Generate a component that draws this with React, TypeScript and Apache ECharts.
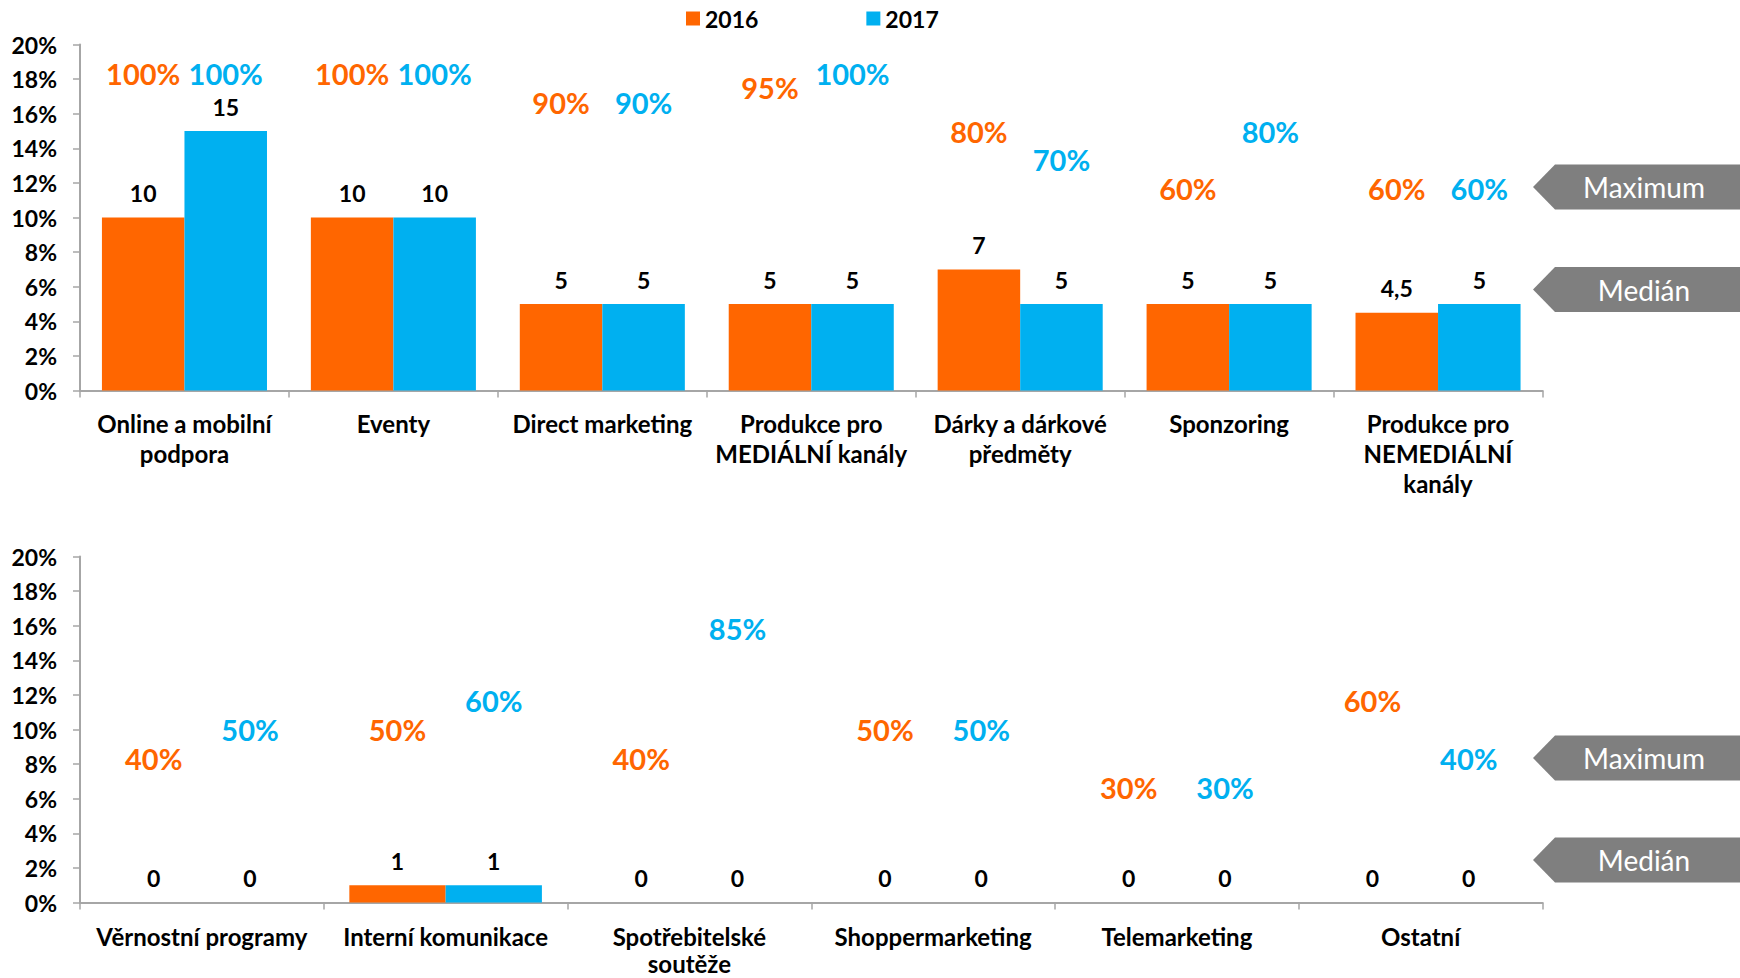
import React, { useEffect, useRef } from 'react';
import * as echarts from 'echarts';

const topCategories = [
  'Online a mobilní\npodpora',
  'Eventy',
  'Direct marketing',
  'Produkce pro\nMEDIÁLNÍ kanály',
  'Dárky a dárkové\npředměty',
  'Sponzoring',
  'Produkce pro\nNEMEDIÁLNÍ\nkanály',
];
const topMedian2016 = [10, 10, 5, 5, 7, 5, 4.5];
const topMedian2017 = [15, 10, 5, 5, 5, 5, 5];
const topMax2016 = [100, 100, 90, 95, 80, 60, 60];
const topMax2017 = [100, 100, 90, 100, 70, 80, 60];

const bottomCategories = [
  'Věrnostní programy',
  'Interní komunikace',
  'Spotřebitelské\nsoutěže',
  'Shoppermarketing',
  'Telemarketing',
  'Ostatní',
];
const bottomMedian2016 = [0, 1, 0, 0, 0, 0];
const bottomMedian2017 = [0, 1, 0, 0, 0, 0];
const bottomMax2016 = [40, 50, 40, 50, 30, 60];
const bottomMax2017 = [50, 60, 85, 50, 30, 40];

const seriesNames = ['2016', '2017'];
const arrowLabels = ['Maximum', 'Medián'];

const ORANGE = '#FF6600';
const BLUE = '#00B0F0';
const AXIS = '#A6A6A6';
const FONT = 'Lato';

export default function App() {
  const ref = useRef<HTMLDivElement>(null);

  useEffect(() => {
    if (!ref.current) return;
    const chart = echarts.init(ref.current, undefined, { renderer: 'svg' });

    const catAxis = (gridIndex: number, data: string[], margin: number, lineHeight: number) => ({
      gridIndex,
      type: 'category',
      data,
      axisLine: { show: true, lineStyle: { color: AXIS, width: 2 } },
      axisTick: { show: true, length: 7, lineStyle: { color: AXIS, width: 1.5 } },
      axisLabel: {
        interval: 0,
        margin,
        color: '#000',
        fontFamily: FONT,
        fontWeight: 'bold',
        fontSize: 24,
        lineHeight,
        align: 'center',
      },
      splitLine: { show: false },
    });
    const hiddenCat = (gridIndex: number, data: string[]) => ({
      gridIndex,
      type: 'category',
      data,
      show: false,
    });
    const valAxis = (gridIndex: number) => ({
      gridIndex,
      type: 'value',
      min: 0,
      max: 20,
      interval: 2,
      axisLine: { show: true, lineStyle: { color: AXIS, width: 2 } },
      axisTick: { show: true, length: 7, lineStyle: { color: AXIS, width: 1.5 } },
      axisLabel: {
        formatter: '{value}%',
        margin: 23,
        color: '#000',
        fontFamily: FONT,
        fontWeight: 'bold',
        fontSize: 23,
      },
      splitLine: { show: false },
    });
    const hiddenVal = (gridIndex: number) => ({
      gridIndex,
      type: 'value',
      min: -10,
      max: 110,
      show: false,
      splitLine: { show: false },
    });

    const medianSeries = (name: string, color: string, data: number[], xi: number, yi: number) => ({
      name,
      type: 'bar',
      xAxisIndex: xi,
      yAxisIndex: yi,
      data,
      barGap: '0%',
      barCategoryGap: '21%',
      itemStyle: { color },
      label: {
        show: true,
        position: 'top',
        distance: 13,
        color: '#000',
        fontFamily: FONT,
        fontWeight: 'bold',
        fontSize: 23,
        formatter: (p: any) => String(p.value).replace('.', ','),
      },
    });
    const maxSeries = (name: string, color: string, data: number[], xi: number, yi: number) => ({
      name,
      type: 'bar',
      xAxisIndex: xi,
      yAxisIndex: yi,
      data,
      silent: true,
      barGap: '0%',
      barCategoryGap: '21%',
      itemStyle: { color: 'rgba(0,0,0,0)' },
      label: {
        show: true,
        position: 'top',
        distance: 0,
        verticalAlign: 'middle',
        color,
        fontFamily: FONT,
        fontWeight: 'bold',
        fontSize: 29,
        formatter: '{c}%',
      },
    });

    const arrow = (tipY: number, label: string) => {
      const h = 45;
      const tipX = 1533;
      const bodyX = 1555;
      return [
        {
          type: 'polygon',
          shape: {
            points: [
              [tipX, tipY],
              [bodyX, tipY - h / 2],
              [1740, tipY - h / 2],
              [1740, tipY + h / 2],
              [bodyX, tipY + h / 2],
            ],
          },
          style: { fill: '#7F7F7F' },
        },
        {
          type: 'text',
          x: 1644,
          y: tipY,
          style: {
            text: label,
            fill: '#FFFFFF',
            fontFamily: FONT,
            fontSize: 28,
            align: 'center',
            verticalAlign: 'middle',
          },
        },
      ];
    };

    chart.setOption({
      animation: false,
      backgroundColor: '#FFFFFF',
      legend: {
        data: seriesNames,
        left: 681,
        top: 2,
        itemWidth: 14,
        itemHeight: 14,
        itemGap: 108,
        icon: 'rect',
        textStyle: { color: '#000', fontFamily: FONT, fontWeight: 'bold', fontSize: 23 },
      },
      grid: [
        { left: 80, top: 44.5, width: 1462.5, height: 346, outerBoundsMode: 'none' },
        { left: 80, top: 556.5, width: 1462.5, height: 346, outerBoundsMode: 'none' },
      ],
      xAxis: [
        catAxis(0, topCategories, 18, 30),
        hiddenCat(0, topCategories),
        catAxis(1, bottomCategories, 20, 27),
        hiddenCat(1, bottomCategories),
      ],
      yAxis: [valAxis(0), hiddenVal(0), valAxis(1), hiddenVal(1)],
      series: [
        medianSeries(seriesNames[0], ORANGE, topMedian2016, 0, 0),
        medianSeries(seriesNames[1], BLUE, topMedian2017, 0, 0),
        maxSeries('max2016a', ORANGE, topMax2016, 1, 1),
        maxSeries('max2017a', BLUE, topMax2017, 1, 1),
        medianSeries(seriesNames[0], ORANGE, bottomMedian2016, 2, 2),
        medianSeries(seriesNames[1], BLUE, bottomMedian2017, 2, 2),
        maxSeries('max2016b', ORANGE, bottomMax2016, 3, 3),
        maxSeries('max2017b', BLUE, bottomMax2017, 3, 3),
      ],
      graphic: [
        ...arrow(187, arrowLabels[0]),
        ...arrow(289.5, arrowLabels[1]),
        ...arrow(758, arrowLabels[0]),
        ...arrow(860, arrowLabels[1]),
      ],
    });

    return () => chart.dispose();
  }, []);

  return (
    <div
      ref={ref}
      style={{ position: 'fixed', left: 0, top: 0, width: 1740, height: 978 }}
    />
  );
}
